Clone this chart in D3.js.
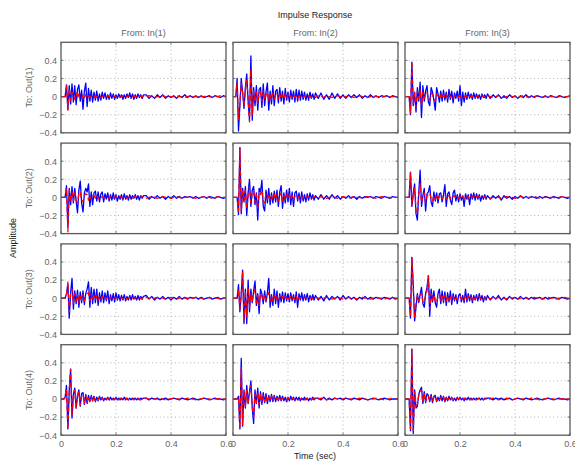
<!DOCTYPE html>
<html>
<head>
<meta charset="utf-8">
<script src="https://cdn.jsdelivr.net/npm/d3@7"></script>
<style>
  html, body { margin: 0; padding: 0; background: #fff; }
  svg { display: block; }
  text { font-family: "Liberation Sans", Arial, Helvetica, sans-serif; }
</style>
</head>
<body>
<svg id="chart" width="575" height="462"></svg>
<script>
// Impulse responses of two 3-input / 4-output models.
// Samples every 5 ms up to 0.3 s, then every 10 ms up to 0.6 s.
const sampleTimes = d3.range(61).map(i => +(i * 0.005).toFixed(3))
  .concat(d3.range(31, 61).map(i => +(i * 0.01).toFixed(2)));

const inputNames = ["In(1)", "In(2)", "In(3)"];
const outputNames = ["Out(1)", "Out(2)", "Out(3)", "Out(4)"];
const xTickValues = [0, 0.2, 0.4, 0.6];
const yTickValues = [-0.4, -0.2, 0, 0.2, 0.4];

// ---- model A (solid) ----
const sysA_o1i1 = [
  0,0,0,0,.13,-.14,.12,-.08,.14,-.06,
  .12,-.09,.08,.13,-.05,.07,-.14,.06,.15,-.11,
  .09,-.05,.07,-.06,.05,-.04,.06,-.05,.03,-.04,
  .05,-.02,.04,-.03,.02,-.03,.04,-.02,.03,-.03,
  .02,-.02,.03,-.01,.02,-.03,.02,-.02,.03,-.01,
  .04,-.02,.03,-.03,.02,-.02,.03,-.01,.02,-.02,
  .02,
  .02,-.02,.01,-.02,.02,-.01,.02,-.02,.01,-.01,
  .01,-.02,.01,-.01,.02,-.01,.01,-.01,.01,-.01,
  .01,-.01,0,.01,-.01,.01,0,-.01,.01,0];
const sysA_o2i1 = [
  0,0,0,0,.13,-.33,.1,-.08,.12,-.06,
  .1,-.04,-.17,.08,.18,-.06,-.16,.05,.1,.06,
  .15,-.1,.06,-.08,.05,.07,-.04,.06,-.05,.04,
  .06,-.05,.04,-.02,.05,-.04,.03,-.03,.05,-.02,
  .03,-.04,.02,-.02,.03,-.03,.04,-.02,.02,-.03,
  .03,-.02,.02,-.01,.03,-.02,.02,-.03,.02,-.01,
  .02,
  .02,-.02,.01,-.01,.02,-.01,.01,-.02,.01,-.01,
  .02,-.01,.01,-.01,.01,0,.01,-.01,.01,-.01,
  0,.01,-.01,.01,0,-.01,.01,0,-.01,0];
const sysA_o3i1 = [
  0,0,0,0,.05,.16,-.22,.06,.22,-.12,
  .08,-.06,.09,-.1,.07,-.05,.08,-.07,.05,.1,
  .18,-.1,.12,-.06,.1,-.05,.1,-.08,.06,-.04,
  .08,-.05,.06,-.03,.08,-.06,.04,-.03,.05,-.04,
  .06,-.02,.04,-.03,.03,-.02,.04,-.03,.02,-.02,
  .03,-.02,.04,-.01,.02,-.02,.03,-.02,.02,-.01,
  .02,
  .03,-.01,.02,-.02,.01,-.01,.02,-.01,.01,-.02,
  .01,-.01,.02,-.01,.01,-.01,.01,0,.01,-.01,
  .01,-.01,0,.01,-.01,0,.01,-.01,0,0];
const sysA_o4i1 = [
  0,0,0,.02,.15,-.33,.1,.33,-.21,.05,
  .12,-.1,.04,.1,-.08,.06,.07,-.06,.05,-.05,
  .04,-.03,.04,-.02,.03,-.03,.02,-.02,.03,-.01,
  .02,-.02,.01,-.01,.02,-.01,.02,-.01,.01,-.01,
  .02,-.01,.01,-.01,.01,-.01,.02,-.01,.01,-.01,
  .01,-.01,.01,0,.01,-.01,.01,-.01,.01,0,
  .01,
  .01,-.01,.01,0,.01,-.01,0,.01,-.01,0,
  .01,0,-.01,.01,0,-.01,0,.01,0,-.01,
  0,.01,0,-.01,0,.01,0,0,-.01,0];
const sysA_o1i2 = [
  0,0,0,.2,-.38,-.1,.2,.05,-.13,.1,
  .25,-.05,-.26,.45,-.26,.1,-.1,.12,-.15,.08,
  .1,-.12,.14,-.1,.05,.15,-.15,.06,-.08,.12,
  -.1,.06,.08,-.07,.1,-.05,.06,-.08,.09,-.04,
  .05,-.06,.07,-.03,.06,-.06,.08,-.05,.07,-.04,
  .06,-.03,.05,-.04,.03,-.04,.05,-.02,.03,-.03,
  .04,
  -.02,.04,-.03,.02,-.03,.04,-.02,.03,-.02,.02,
  -.02,.02,-.01,.02,-.01,.02,-.02,.01,-.01,.02,
  -.01,.01,-.01,.01,0,.01,-.01,.01,0,-.01];
const sysA_o2i2 = [
  0,0,0,0,-.19,.55,-.18,.1,-.05,.12,
  -.2,.05,.2,-.1,.08,.12,-.08,.05,-.25,.1,
  .06,.19,-.1,-.15,.08,-.06,.1,-.08,.05,-.06,
  .07,-.05,.08,-.1,.06,.13,-.12,.05,-.06,.08,
  -.05,.1,-.08,.06,-.1,.05,.07,-.04,.05,-.06,
  .06,-.04,.03,-.05,.04,-.03,.05,-.02,.03,-.03,
  .02,
  -.02,.03,-.02,.02,-.02,.03,-.01,.02,-.02,.01,
  -.01,.02,-.01,.01,-.02,.01,-.01,.01,0,.01,
  -.01,.01,0,-.01,.01,0,-.01,.01,0,0];
const sysA_o3i2 = [
  0,0,0,0,.15,-.15,.05,.31,-.28,.1,
  -.28,.2,-.15,.1,-.05,.08,.19,-.08,.05,-.17,
  .1,.05,-.06,.08,-.04,.06,.22,-.1,.04,-.08,
  .1,-.06,.08,-.1,.05,-.04,.07,-.05,.06,-.03,
  .05,-.04,.06,-.03,.04,-.05,.07,-.1,.05,-.02,
  .06,-.03,.04,-.02,.05,-.04,.03,-.02,.04,-.02,
  .03,
  -.02,.02,-.03,.03,-.02,.02,-.01,.02,-.02,.03,
  -.01,.02,-.01,.01,-.02,.01,-.01,.02,-.01,.01,
  -.01,.01,0,-.01,.01,0,-.01,.01,-.01,0];
const sysA_o4i2 = [
  0,0,0,0,.03,-.33,.45,-.3,.1,-.1,
  .15,-.05,.08,.2,-.1,-.27,.1,-.05,.12,-.1,
  .08,-.06,.07,-.04,.06,-.05,.04,-.03,.05,-.03,
  .04,-.03,.03,-.02,.04,-.02,.03,-.02,.02,-.03,
  .02,-.02,.03,-.01,.02,-.02,.02,-.01,.02,-.02,
  .01,-.01,.02,-.01,.01,-.02,.01,-.01,.02,-.01,
  .01,
  .01,-.01,.02,-.01,.01,-.01,.01,0,.01,-.01,
  .01,0,-.01,.01,0,-.01,.01,0,-.01,0,
  .01,0,-.01,0,.01,0,-.01,0,0,0];
const sysA_o1i3 = [
  0,0,0,0,-.2,.38,-.1,.05,-.17,.1,
  -.05,.16,-.23,.12,-.05,.06,.12,-.06,-.1,.1,
  .05,-.04,-.15,.1,.03,-.06,.06,-.05,.07,-.04,
  .05,-.06,.08,-.03,.06,-.07,.04,-.02,.06,-.05,
  .12,-.1,.05,-.06,.04,-.03,.05,-.02,.03,-.03,
  .04,-.02,.03,-.02,.02,-.03,.03,-.01,.02,-.02,
  .03,
  -.02,.02,-.01,.02,-.02,.01,-.02,.02,-.01,.01,
  -.02,.01,-.01,.02,-.01,.01,-.01,.01,0,-.01,
  .01,-.01,.01,0,-.01,.01,0,-.01,0,.01];
const sysA_o2i3 = [
  0,0,0,0,.28,-.1,.05,.15,-.18,-.25,
  .05,.3,-.1,.02,.1,-.15,.04,.06,.13,-.05,
  -.1,.06,-.04,.05,-.06,.04,.05,-.05,.03,.14,
  -.1,.04,.06,-.03,-.08,.05,.08,-.04,.03,-.05,
  .04,-.03,.02,-.1,.04,-.02,.03,-.08,.04,-.02,
  .05,-.03,.04,-.02,.03,-.04,.02,-.02,.03,-.02,
  .02,
  -.02,.02,-.01,.02,-.03,.02,-.01,.01,-.02,.01,
  -.01,.02,-.01,.01,-.01,.01,0,-.01,.01,-.01,
  .01,0,-.01,.01,0,-.01,.01,0,-.01,0];
const sysA_o3i3 = [
  0,0,0,0,-.22,.45,.15,-.25,-.1,.05,
  -.05,.04,.12,-.06,-.1,.05,.12,.25,-.2,.1,
  -.04,.08,-.05,-.1,.05,.1,-.06,.08,-.05,.07,
  -.08,.06,-.04,.08,-.07,.05,-.03,.04,-.06,.03,
  .05,-.04,.03,-.05,.1,-.04,.05,-.03,.04,-.05,
  .03,-.02,.04,-.03,.05,-.02,.03,-.04,.02,-.02,
  .03,
  -.02,.02,-.01,.03,-.02,.01,-.02,.02,-.01,.01,
  -.01,.02,-.01,.01,-.01,.01,-.01,0,.01,-.01,
  .01,-.01,0,.01,0,-.01,.01,0,-.01,0];
const sysA_o4i3 = [
  0,0,0,0,-.35,.55,-.38,.1,-.1,-.08,
  .05,.1,.13,-.05,.08,-.04,.06,.04,-.03,.05,
  -.04,.03,.04,-.03,.02,-.02,.04,-.02,.03,-.03,
  .02,-.02,.03,-.01,.02,-.02,.01,-.02,.02,-.01,
  .02,-.01,.01,-.02,.01,-.01,.02,-.01,.01,-.01,
  .01,-.01,.01,0,.01,-.01,.01,-.01,.01,0,
  .01,
  .01,-.01,.01,0,.01,-.01,0,.01,-.01,0,
  .01,0,-.01,.01,0,-.01,0,.01,0,-.01,
  0,.01,0,-.01,0,.01,0,0,-.01,0];

// ---- model B (dashed) ----
const sysB_o1i1 = [
  0,0,0,0,.13,-.15,.09,-.04,.05,.02,
  -.03,.04,-.02,.03,.01,-.02,.02,-.01,.02,-.01,
  .01,-.01,.01,0,.01,-.01,0,.01,0,-.01,
  0,.01,0,-.01,.01,0,-.01,0,.01,0,
  -.01,0,.01,-.01,0,.01,0,-.01,0,.01,
  0,-.01,0,.01,0,0,-.01,0,.01,0,
  0,
  0,.01,0,-.01,0,0,.01,0,-.01,0,
  0,.01,0,0,-.01,0,.01,0,0,-.01,
  0,0,.01,0,-.01,0,0,.01,0,0];
const sysB_o2i1 = [
  0,0,0,0,.1,-.38,.08,-.05,.06,-.04,
  .05,-.03,-.06,.04,.06,-.03,-.05,.02,.04,.03,
  -.03,.02,-.03,.02,.02,-.01,.02,-.01,.01,-.01,
  .01,0,-.01,.01,0,-.01,.01,0,-.01,0,
  .01,-.01,0,.01,0,-.01,0,.01,-.01,0,
  .01,0,-.01,0,.01,0,-.01,0,0,.01,
  0,
  -.01,0,.01,0,-.01,0,.01,0,0,-.01,
  0,.01,0,-.01,0,0,.01,0,-.01,0,
  0,.01,0,0,-.01,0,.01,0,0,0];
const sysB_o3i1 = [
  0,0,0,0,.03,.18,-.15,.04,.1,-.06,
  .05,-.03,.04,-.05,.03,-.02,.04,-.03,.02,.05,
  .06,-.03,.04,-.02,.03,-.02,.03,-.02,.02,-.01,
  .02,-.01,.01,-.01,.02,-.01,.01,0,.01,-.01,
  .01,0,-.01,.01,0,-.01,.01,0,-.01,0,
  .01,-.01,0,.01,0,-.01,0,.01,0,-.01,
  0,
  .01,0,-.01,0,.01,0,0,-.01,0,.01,
  0,-.01,0,.01,0,0,-.01,0,.01,0,
  0,-.01,0,.01,0,0,0,-.01,0,0];
const sysB_o4i1 = [
  0,0,0,.02,.12,-.33,.08,.33,-.18,.04,
  .1,-.1,.03,.08,-.07,.05,.05,-.05,.04,-.04,
  .03,-.02,.03,-.02,.02,-.02,.01,-.01,.02,-.01,
  .01,-.01,.01,0,.01,-.01,0,.01,-.01,0,
  .01,0,-.01,.01,0,-.01,0,.01,0,-.01,
  0,.01,0,-.01,0,.01,0,0,-.01,0,
  0,
  .01,0,-.01,0,0,.01,0,-.01,0,0,
  .01,0,0,-.01,0,.01,0,0,-.01,0,
  0,.01,0,0,-.01,0,0,.01,0,0];
const sysB_o1i2 = [
  0,0,0,.15,-.25,-.08,.15,.04,-.1,.08,
  .18,-.04,-.28,.3,-.2,.06,-.06,.05,-.08,.04,
  .05,-.05,.06,-.04,.02,.05,-.05,.03,-.03,.04,
  -.03,.02,.03,-.02,.03,-.02,.02,-.03,.03,-.01,
  .02,-.02,.01,-.01,.02,-.01,.01,-.02,.01,0,
  .01,-.01,.01,0,-.01,.01,0,-.01,.01,0,
  -.01,
  .01,0,-.01,.01,0,-.01,0,.01,0,-.01,
  0,.01,0,-.01,0,.01,0,0,-.01,0,
  .01,0,0,-.01,0,.01,0,0,0,0];
const sysB_o2i2 = [
  0,0,0,0,-.15,.55,-.15,.08,-.04,.08,
  -.12,.03,.12,-.06,.05,.07,-.05,.03,-.12,.05,
  .03,.08,-.05,-.06,.03,-.02,.04,-.03,.02,-.02,
  .03,-.02,.03,-.04,.02,.05,-.04,.02,-.02,.03,
  -.02,.03,-.02,.02,-.03,.01,.02,-.01,.01,-.02,
  .01,-.01,.01,-.01,.01,0,.01,-.01,0,.01,
  0,
  -.01,.01,0,-.01,0,.01,0,-.01,0,.01,
  0,-.01,0,.01,0,0,-.01,0,.01,0,
  0,-.01,0,.01,0,0,0,-.01,0,0];
const sysB_o3i2 = [
  0,0,0,0,.1,-.12,.04,.3,-.25,.08,
  -.2,.12,-.1,.06,-.03,.05,.1,-.05,.03,-.08,
  .05,.02,-.03,.04,-.02,.03,.06,-.03,.02,-.03,
  .03,-.02,.02,-.03,.02,-.01,.02,-.02,.02,-.01,
  .01,-.01,.02,-.01,.01,-.02,.02,-.03,.01,0,
  .01,-.01,.01,0,.01,-.01,0,.01,-.01,0,
  .01,
  0,-.01,0,.01,0,-.01,0,.01,0,-.01,
  0,.01,0,0,-.01,0,.01,0,0,-.01,
  0,.01,0,0,-.01,0,0,.01,0,0];
const sysB_o4i2 = [
  0,0,0,0,.02,-.33,.35,-.28,.08,-.08,
  .1,-.04,.06,.15,-.08,-.2,.06,-.04,.08,-.06,
  .05,-.04,.04,-.03,.03,-.03,.02,-.02,.03,-.02,
  .02,-.01,.01,-.01,.02,-.01,.01,0,.01,-.01,
  .01,0,-.01,.01,0,-.01,.01,0,-.01,0,
  .01,0,-.01,0,.01,0,0,-.01,0,.01,
  0,
  0,.01,0,-.01,0,0,.01,0,-.01,0,
  .01,0,0,-.01,0,.01,0,0,-.01,0,
  0,.01,0,0,-.01,0,0,.01,0,0];
const sysB_o1i3 = [
  0,0,0,0,-.18,.38,-.08,.04,-.12,.06,
  -.03,.08,-.1,.05,-.02,.03,.05,-.03,-.04,.04,
  .02,-.02,-.05,.03,.01,-.02,.02,-.02,.02,-.01,
  .02,-.02,.02,-.01,.01,-.02,.01,0,.02,-.01,
  .03,-.02,.01,-.01,.01,0,.01,-.01,.01,0,
  .01,-.01,0,.01,0,-.01,.01,0,-.01,0,
  .01,
  0,-.01,0,.01,0,-.01,0,.01,0,0,
  -.01,0,.01,0,-.01,0,0,.01,0,-.01,
  0,.01,0,0,-.01,0,.01,0,0,0];
const sysB_o2i3 = [
  0,0,0,0,.27,-.08,.03,.1,-.15,-.18,
  .03,.15,-.06,.01,.05,-.06,.02,.03,.05,-.02,
  -.04,.02,-.02,.02,-.02,.02,.02,-.02,.01,.03,
  -.02,.01,.02,-.01,-.02,.01,.02,-.01,.01,-.01,
  .01,-.01,.01,-.02,.01,0,.01,-.02,.01,0,
  .01,-.01,.01,0,.01,-.01,0,0,.01,-.01,
  0,
  -.01,0,.01,0,-.01,0,.01,0,0,-.01,
  0,.01,0,-.01,0,0,.01,0,-.01,0,
  0,.01,0,0,-.01,0,.01,0,0,0];
const sysB_o3i3 = [
  0,0,0,0,-.2,.45,.1,-.22,-.06,.03,
  -.03,.02,.06,-.04,-.05,.03,.08,.25,-.12,.05,
  -.02,.04,-.03,-.05,.03,.05,-.03,.04,-.03,.03,
  -.03,.03,-.02,.03,-.03,.02,-.01,.02,-.02,.01,
  .02,-.01,.01,-.02,.03,-.01,.02,-.01,.01,-.02,
  .01,-.01,.01,-.01,.02,-.01,.01,-.01,.01,0,
  .01,
  -.01,.01,0,.01,-.01,0,-.01,.01,0,.01,
  -.01,0,.01,0,-.01,0,.01,0,0,-.01,
  0,.01,0,0,-.01,0,0,.01,0,0];
const sysB_o4i3 = [
  0,0,0,0,-.33,.55,-.35,.08,-.08,-.06,
  .04,.08,.1,-.04,.06,-.03,.04,.03,-.02,.03,
  -.03,.02,.03,-.02,.01,-.01,.02,-.01,.02,-.02,
  .01,-.01,.02,0,.01,-.01,0,-.01,.01,0,
  .01,0,-.01,.01,0,-.01,.01,0,-.01,0,
  .01,0,-.01,0,.01,0,0,-.01,0,.01,
  0,
  0,.01,0,-.01,0,0,.01,0,-.01,0,
  .01,0,0,-.01,0,.01,0,0,-.01,0,
  0,.01,0,0,-.01,0,0,.01,0,0];

// Output rows x input columns
const responses = [
  [[sysA_o1i1, sysB_o1i1], [sysA_o1i2, sysB_o1i2], [sysA_o1i3, sysB_o1i3]],
  [[sysA_o2i1, sysB_o2i1], [sysA_o2i2, sysB_o2i2], [sysA_o2i3, sysB_o2i3]],
  [[sysA_o3i1, sysB_o3i1], [sysA_o3i2, sysB_o3i2], [sysA_o3i3, sysB_o3i3]],
  [[sysA_o4i1, sysB_o4i1], [sysA_o4i2, sysB_o4i2], [sysA_o4i3, sysB_o4i3]]
];

// ---- layout ----
const svg = d3.select("#chart");
const left0 = 61, top0 = 42.3, panelW = 165, panelH = 90.5, colStep = 172, rowStep = 100.8;
const labelColor = "#666";
const frameColor = "#5a5a5a";

const x = d3.scaleLinear().domain([0, 0.6]).range([0, panelW]);
const y = d3.scaleLinear().domain([-0.4, 0.6]).range([panelH, 0]);
const fmt = d => d === 0 ? "0" : d3.format(".1f")(d);

const line = d3.line()
  .x((d, i) => x(sampleTimes[i]))
  .y(d => y(d));

svg.append("rect").attr("width", 575).attr("height", 462).attr("fill", "#fff");

responses.forEach((row, r) => {
  row.forEach((pair, c) => {
    const g = svg.append("g")
      .attr("transform", `translate(${left0 + c * colStep},${top0 + r * rowStep})`);
    const clipId = `clip-${r}-${c}`;
    g.append("clipPath").attr("id", clipId)
      .append("rect").attr("width", panelW).attr("height", panelH);

    g.append("rect").attr("width", panelW).attr("height", panelH).attr("fill", "#fff");

    // dotted grid
    const grid = g.append("g").attr("stroke", "#a0a0a0").attr("stroke-width", 0.8)
      .attr("stroke-dasharray", "1,2.8");
    xTickValues.filter(v => v > 0 && v < 0.6).forEach(v => {
      grid.append("line").attr("x1", x(v)).attr("x2", x(v)).attr("y1", 0).attr("y2", panelH);
    });
    yTickValues.filter(v => v > -0.4).forEach(v => {
      grid.append("line").attr("x1", 0).attr("x2", panelW).attr("y1", y(v)).attr("y2", y(v));
    });

    // responses
    const traces = g.append("g").attr("clip-path", `url(#${clipId})`).attr("fill", "none");
    traces.append("path").datum(pair[0]).attr("d", line)
      .attr("stroke", "#0000ff").attr("stroke-width", 1.3).attr("stroke-linejoin", "round");
    traces.append("path").datum(pair[1]).attr("d", line)
      .attr("stroke", "#ff0000").attr("stroke-width", 1.3).attr("stroke-dasharray", "5,3")
      .attr("stroke-linejoin", "round");

    // frame and inward ticks
    const tk = g.append("g").attr("stroke", frameColor).attr("stroke-width", 0.8);
    xTickValues.forEach(v => {
      tk.append("line").attr("x1", x(v)).attr("x2", x(v)).attr("y1", panelH).attr("y2", panelH - 2.5);
      tk.append("line").attr("x1", x(v)).attr("x2", x(v)).attr("y1", 0).attr("y2", 2.5);
    });
    yTickValues.forEach(v => {
      tk.append("line").attr("x1", 0).attr("x2", 2.5).attr("y1", y(v)).attr("y2", y(v));
      tk.append("line").attr("x1", panelW).attr("x2", panelW - 2.5).attr("y1", y(v)).attr("y2", y(v));
    });
    g.append("rect").attr("width", panelW).attr("height", panelH)
      .attr("fill", "none").attr("stroke", frameColor).attr("stroke-width", 1.3);

    // tick labels
    if (c === 0) {
      const ay = g.append("g")
        .call(d3.axisLeft(y).tickValues(yTickValues).tickSize(0).tickPadding(4).tickFormat(fmt));
      ay.select(".domain").remove();
      ay.selectAll("text").attr("fill", labelColor).attr("font-size", 9)
        .attr("font-family", "Liberation Sans, Arial, sans-serif");
      g.append("text")
        .attr("transform", `translate(-29,${panelH / 2}) rotate(-90)`)
        .attr("text-anchor", "middle").attr("fill", labelColor).attr("font-size", 9)
        .text("To: " + outputNames[r]);
    }
    if (r === responses.length - 1) {
      const ax = g.append("g").attr("transform", `translate(0,${panelH})`)
        .call(d3.axisBottom(x).tickValues(xTickValues).tickSize(0).tickPadding(5).tickFormat(fmt));
      ax.select(".domain").remove();
      ax.selectAll("text").attr("fill", labelColor).attr("font-size", 9)
        .attr("font-family", "Liberation Sans, Arial, sans-serif");
    }
    if (r === 0) {
      g.append("text").attr("x", panelW / 2).attr("y", -6)
        .attr("text-anchor", "middle").attr("fill", labelColor).attr("font-size", 9)
        .text("From: " + inputNames[c]);
    }
  });
});

// overall labels
svg.append("text").attr("x", 315).attr("y", 18).attr("text-anchor", "middle")
  .attr("fill", "#222").attr("font-size", 9).text("Impulse Response");
svg.append("text").attr("x", 315).attr("y", 459).attr("text-anchor", "middle")
  .attr("fill", "#222").attr("font-size", 9).text("Time (sec)");
svg.append("text").attr("transform", "translate(16,238) rotate(-90)")
  .attr("text-anchor", "middle").attr("fill", "#222").attr("font-size", 9).text("Amplitude");
</script>
</body>
</html>
